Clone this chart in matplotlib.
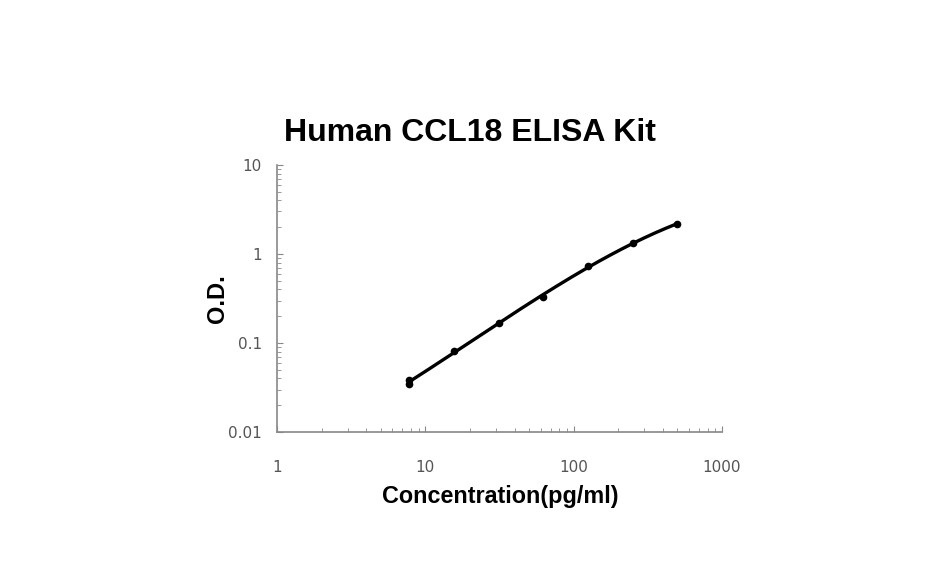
import numpy as np
import matplotlib.pyplot as plt

# =========================
# Datos
# =========================
conc = [7.8, 7.8, 15.6, 31.25, 62.5, 125, 250, 500]
od = [0.038, 0.035, 0.081, 0.168, 0.329, 0.733, 1.33, 2.17]

x_ticks = [1, 10, 100, 1000]
x_labels = ["1", "10", "100", "1000"]
y_ticks = [0.01, 0.1, 1, 10]
y_labels = ["0.01", "0.1", "1", "10"]

# curva suave: ajuste polinómico en escala log-log
lx = np.log10(conc)
ly = np.log10(od)
coef = np.polyfit(lx, ly, 3)
xs = np.linspace(lx.min(), lx.max(), 200)
ys = np.polyval(coef, xs)

fig = plt.figure(figsize=(9.4, 5.87), dpi=100)
ax = fig.add_axes([0.2947, 0.264, 0.4734, 0.455])

ax.plot(10 ** xs, 10 ** ys, color="black", lw=2.4)
ax.plot(conc, od, "o", color="black", ms=4.5)

ax.set_xscale("log")
ax.set_yscale("log")
ax.set_xlim(1, 1000)
ax.set_ylim(0.01, 10)

ax.set_xticks(x_ticks)
ax.set_xticklabels(x_labels)
ax.set_yticks(y_ticks)
ax.set_yticklabels(y_labels)

for s in ["top", "right"]:
    ax.spines[s].set_visible(False)
for s in ["left", "bottom"]:
    ax.spines[s].set_color("#888888")
    ax.spines[s].set_linewidth(1.2)

ax.tick_params(which="both", direction="in", colors="#888888", labelcolor="#555555",
               labelsize=11)
ax.tick_params(which="major", length=4)
ax.tick_params(which="minor", length=3)
ax.tick_params(axis="x", pad=20)
ax.tick_params(axis="y", pad=11)

# título centrado en la figura, como en el original
fig.text(0.5, 1 - 133 / 587, "Human CCL18 ELISA Kit", fontsize=23, fontweight="bold",
         family="Liberation Sans", ha="center", va="center")

ax.set_xlabel("Concentration(pg/ml)", fontsize=16.8, fontweight="bold",
              family="Liberation Sans")
ax.set_ylabel("O.D.", fontsize=17, fontweight="bold", family="Liberation Sans")
ax.xaxis.set_label_coords(0.501, -0.20)
ax.yaxis.set_label_coords(-0.107, 0.5)

fig.savefig("out.png", dpi=100, facecolor="white")
